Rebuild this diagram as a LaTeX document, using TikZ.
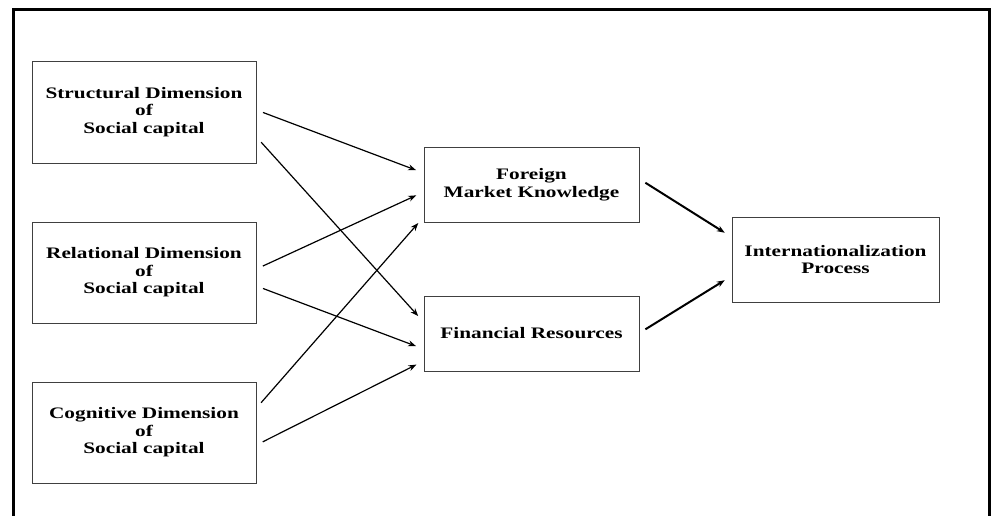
\documentclass[tikz,border=0pt]{standalone}
\usepackage{fontspec}
\setmainfont{Liberation Serif}[FakeStretch=1.33]
\usetikzlibrary{arrows.meta,calc}
\definecolor{bordergray}{rgb}{0.25,0.25,0.25}
\tikzset{
  dimbox/.style={draw=bordergray,line width=0.9pt,align=center,inner sep=0pt,
    font=\fontsize{16}{17.5}\selectfont\bfseries},
  link/.style={line width=1.2pt,-{Stealth[length=8pt,width=6pt]},shorten <=7pt,shorten >=8pt},
  thicklink/.style={link,line width=2pt}
}

\begin{document}
\begin{tikzpicture}[x=1pt,y=-1pt]
    \useasboundingbox (0,0) rectangle (992,516);
    \draw [line width=3pt] (13,520) -- (13,10) -- (989,10) -- (989,520);
    % left column
    \node[dimbox,minimum width=224pt,minimum height=102pt] (sd) at (144,112) {Structural Dimension\\of\\Social capital};
    \node[dimbox,minimum width=224pt,minimum height=101pt] (rd) at (144,272.5) {Relational Dimension\\of\\Social capital};
    \node[dimbox,minimum width=224pt,minimum height=101pt] (cd) at (144,432.5) {Cognitive Dimension\\of\\Social capital};
    % middle column
    \node[dimbox,minimum width=215pt,minimum height=75pt] (fmk) at (531.5,184.5) {Foreign\\Market Knowledge};
    \node[dimbox,minimum width=215pt,minimum height=75pt] (fr) at (531.5,333.5) {Financial Resources};
    % right
    \node[dimbox,minimum width=207pt,minimum height=85pt] (ip) at (835.5,259.5) {Internationalization\\Process};
    % links
    \draw [link] ($(sd.east)+(0,-2)$) -- ($(fmk.west)+(0,-11.5)$);
    \draw [link] ($(sd.east)+(0,25)$) -- ($(fr.west)+(0,-11.5)$);
    \draw [link] ($(rd.east)+(0,-3.5)$) -- ($(fmk.west)+(0,7.5)$);
    \draw [link] ($(rd.east)+(0,13.5)$) -- ($(fr.west)+(0,15.5)$);
    \draw [link] ($(cd.east)+(0,-24.5)$) -- ($(fmk.west)+(0,32.5)$);
    \draw [link] ($(cd.east)+(0,12.5)$) -- ($(fr.west)+(0,27.5)$);
    \draw [thicklink] ($(fmk.east)+(0,-5.5)$) -- ($(ip.west)+(0,-22.5)$);
    \draw [thicklink] ($(fr.east)+(0,-0.5)$) -- ($(ip.west)+(0,16.5)$);
\end{tikzpicture}
\end{document}
